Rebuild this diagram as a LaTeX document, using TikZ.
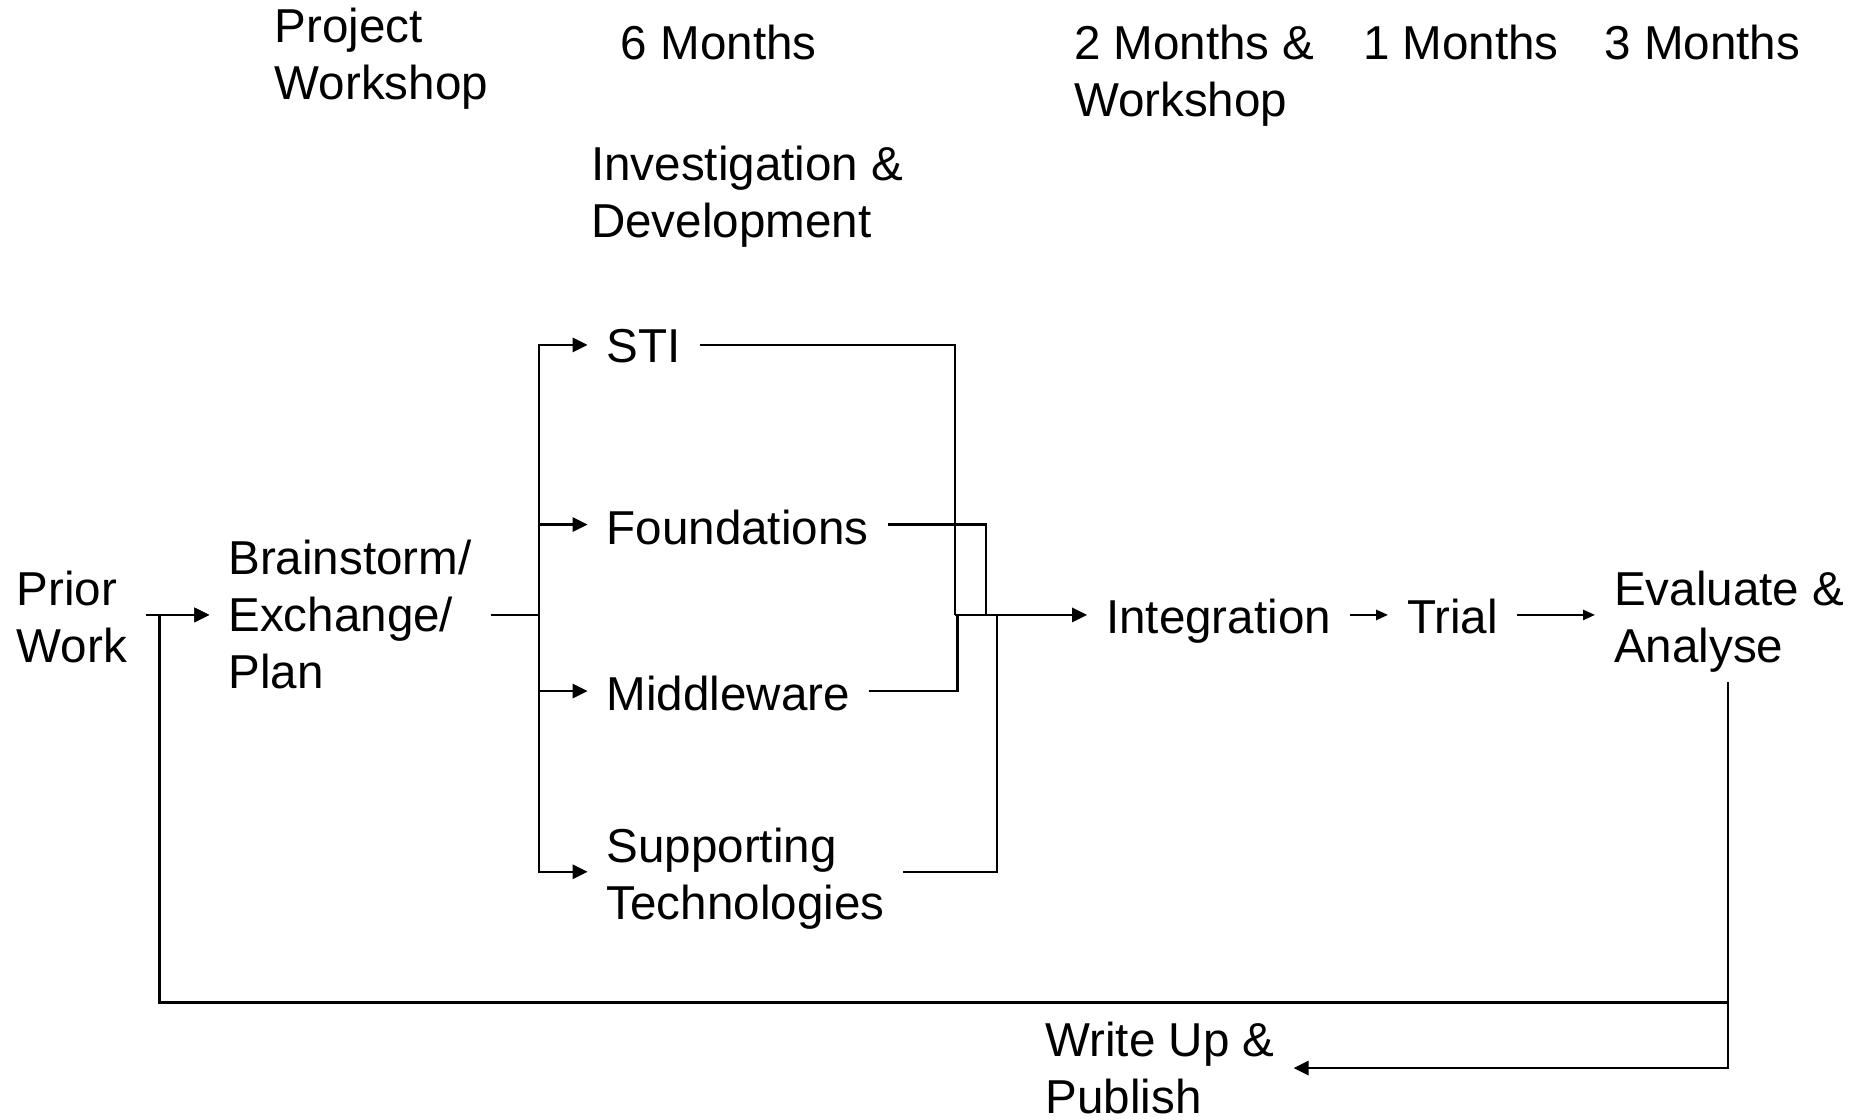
\documentclass[tikz,border=0pt]{standalone}
\usepackage{fontspec}
\setmainfont{Liberation Sans}
\usetikzlibrary{arrows.meta}
\begin{document}
\begin{tikzpicture}[x=0.5pt,y=-0.5pt,
  lbl/.style={anchor=base west,inner sep=0pt,outer xsep=8pt,outer ysep=0pt,xshift=-8pt,align=left,font=\fontsize{20}{24}\selectfont},
  conn/.style={line width=1pt},
  arr/.style={conn,-{Triangle[length=6.3pt,width=6pt]}},
  sarr/.style={conn,-{Triangle[length=5pt,width=4.2pt]}}]
\useasboundingbox (0,0) rectangle (1568,941);
% labels (y = baseline of the last line)
\node[lbl] (proj)  at (231,84)  {Project\\Workshop};
\node[lbl] (m6)    at (522,50)  {6 Months};
\node[lbl] (m2)    at (903,98)  {2 Months \&\\Workshop};
\node[lbl] (m1)    at (1146,50) {1 Months};
\node[lbl] (m3)    at (1349,50) {3 Months};
\node[lbl] (inv)   at (497,200) {Investigation \&\\Development};
\node[lbl] (sti)   at (510,305) {STI};
\node[lbl] (fou)   at (510,458) {Foundations};
\node[lbl] (mid)   at (510,597) {Middleware};
\node[lbl] (sup)   at (510,773) {Supporting\\Technologies};
\node[lbl] (prior) at (14,557)  {Prior\\Work};
\node[lbl] (brain) at (192,579) {Brainstorm/\\Exchange/\\Plan};
\node[lbl] (int)   at (930,533) {Integration};
\node[lbl] (trial) at (1183,533) {Trial};
\node[lbl] (eval)  at (1357,557) {Evaluate \&\\Analyse};
\node[lbl] (write) at (879,936) {Write Up \&\\Publish};
% helper rows / columns
\coordinate (rmain) at (0,517);
\coordinate (rsti)  at (0,290);
\coordinate (rfou)  at (0,441);
\coordinate (rmid)  at (0,581);
\coordinate (rsup)  at (0,733);
\coordinate (rloop) at (0,843);
\coordinate (rwu)   at (0,898);
\coordinate (split) at (453,517);
\coordinate (csti)  at (803,0);
\coordinate (cfou)  at (829,0);
\coordinate (cmid)  at (805,0);
\coordinate (csup)  at (838,0);
\coordinate (cloop) at (134,0);
\coordinate (ceval) at (1453,0);
% connectors
\draw[arr] (prior.east |- rmain) -- (brain.west |- rmain);
\draw[conn] (brain.east |- rmain) -- (split);
\draw[arr] (split) |- (sti.west |- rsti);
\draw[arr] (split) |- (fou.west |- rfou);
\draw[arr] (split) |- (mid.west |- rmid);
\draw[arr] (split) |- (sup.west |- rsup);
\draw[conn] (sti.east |- rsti) -| (csti |- rmain);
\draw[conn] (fou.east |- rfou) -| (cfou |- rmain);
\draw[conn] (mid.east |- rmid) -| (cmid |- rmain);
\draw[conn] (sup.east |- rsup) -| (csup |- rmain);
\draw[arr] (csti |- rmain) -- (int.west |- rmain);
\draw[sarr] (int.east |- rmain) -- (trial.west |- rmain);
\draw[sarr] (trial.east |- rmain) -- (eval.west |- rmain);
\draw[arr] ([yshift=-4pt]ceval |- eval.south) -- (ceval |- rwu) -- (write.east |- rwu);
\draw[arr] (ceval |- rloop) -- (cloop |- rloop) -- (cloop |- rmain) -- (brain.west |- rmain);
\end{tikzpicture}
\end{document}
